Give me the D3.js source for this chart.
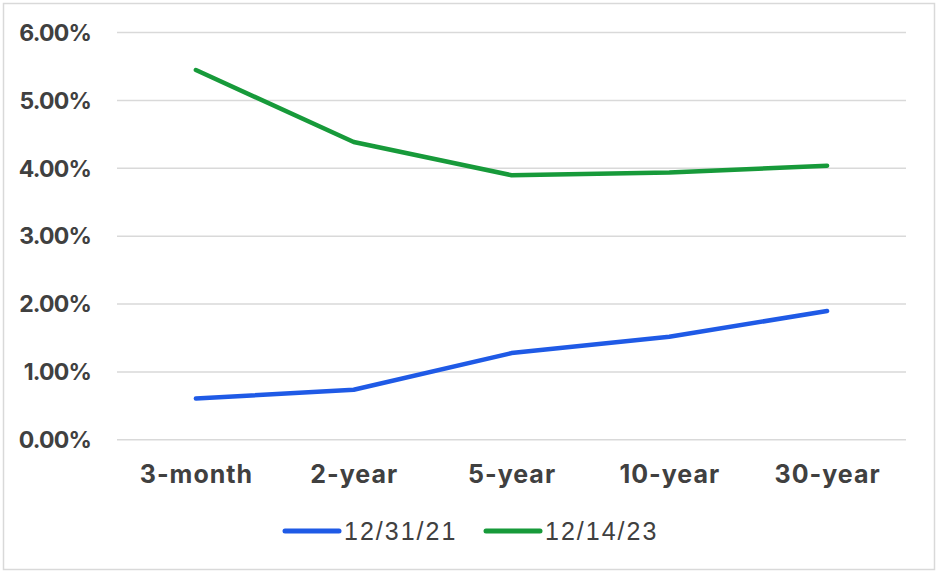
<!DOCTYPE html>
<html>
<head>
<meta charset="utf-8">
<script src="https://cdn.jsdelivr.net/npm/d3@7"></script>
<style>
  html, body { margin: 0; padding: 0; background: #fff; }
  svg { display: block; }
</style>
</head>
<body>
<svg id="chart" width="940" height="573"></svg>
<script>
const categories = ["3-month", "2-year", "5-year", "10-year", "30-year"];
const seriesNames = ["12/31/21", "12/14/23"];
const values2021 = [0.60, 0.73, 1.27, 1.51, 1.89];
const values2023 = [5.44, 4.38, 3.89, 3.93, 4.03];
const yTicks = [0, 1, 2, 3, 4, 5, 6];
const colors = ["#1f5ae6", "#179a3a"];

const series = [
  { name: seriesNames[0], values: values2021, color: colors[0] },
  { name: seriesNames[1], values: values2023, color: colors[1] }
];

const svg = d3.select("#chart");

// outer border
svg.append("rect")
  .attr("x", 3.5).attr("y", 3.5)
  .attr("width", 931).attr("height", 566)
  .attr("fill", "#fff")
  .attr("stroke", "#d9d9d9")
  .attr("stroke-width", 1.5);

const plot = { left: 117, right: 906, top: 32, bottom: 439.3 };

const x = d3.scalePoint().domain(categories).range([plot.left, plot.right]).padding(0.5);
const y = d3.scaleLinear().domain([0, 6]).range([plot.bottom, plot.top]);

// gridlines + y labels
const yAxis = d3.axisLeft(y).tickValues(yTicks).tickSize(-(plot.right - plot.left))
  .tickFormat(d => d3.format(".2f")(d) + "%").tickPadding(26);
const gy = svg.append("g").attr("transform", `translate(${plot.left},0)`).call(yAxis);
gy.select(".domain").remove();
gy.selectAll(".tick line").attr("stroke", "#d9d9d9").attr("stroke-width", 1.5);
gy.selectAll(".tick text")
  .attr("fill", "#404040")
  .style("font-family", "Inter, 'Noto Sans', sans-serif")
  .style("font-weight", "700")
  .style("font-size", "23px")
  .style("letter-spacing", "-0.8px")
  .attr("dy", "0.36em");

// x axis labels
const xAxis = d3.axisBottom(x).tickSize(0).tickPadding(26);
const gx = svg.append("g").attr("transform", `translate(0,${plot.bottom})`).call(xAxis);
gx.select(".domain").remove();
gx.selectAll(".tick text")
  .attr("fill", "#404040")
  .style("font-family", "Inter, 'Noto Sans', sans-serif")
  .style("font-weight", "700")
  .style("font-size", "25px")
  .style("letter-spacing", "1px");

// lines
const line = d3.line().x((d, i) => x(categories[i])).y(d => y(d));
svg.append("g").selectAll("path").data(series).join("path")
  .attr("d", d => line(d.values))
  .attr("fill", "none")
  .attr("stroke", d => d.color)
  .attr("stroke-width", 4.5)
  .attr("stroke-linecap", "round")
  .attr("stroke-linejoin", "round");

// legend
const legend = svg.append("g").attr("transform", "translate(285,531)");
const legendX = [0, 201];
const items = legend.selectAll("g").data(series).join("g")
  .attr("transform", (d, i) => `translate(${legendX[i]},0)`);
items.append("line")
  .attr("x1", 0).attr("x2", 54).attr("y1", 0).attr("y2", 0)
  .attr("stroke", d => d.color).attr("stroke-width", 5).attr("stroke-linecap", "round");
items.append("text")
  .attr("x", 59).attr("y", 0).attr("dy", "0.36em")
  .attr("fill", "#404040")
  .style("font-family", "'Liberation Sans', Arial, sans-serif")
  .style("font-size", "25px")
  .style("letter-spacing", "2px")
  .text(d => d.name);
</script>
</body>
</html>
